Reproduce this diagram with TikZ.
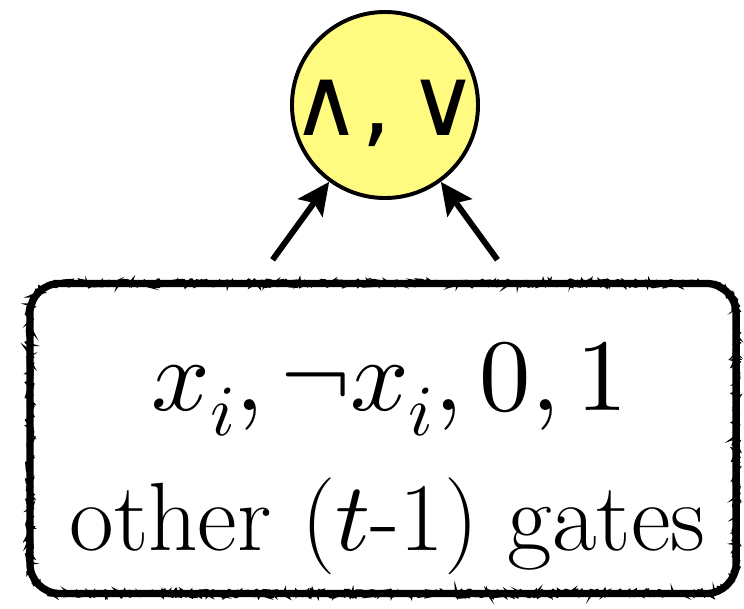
\documentclass[tikz,border=0pt]{standalone}
\usepackage{amsmath}
\usepackage{unicode-math}
\setmathfont{Latin Modern Math}
\usetikzlibrary{arrows.meta,positioning,decorations.pathmorphing}
\newfontfamily\opfont{DejaVu Sans}
\definecolor{gateyellow}{HTML}{FFFA80}

\begin{document}
\begin{tikzpicture}[x=0.025cm, y=0.025cm,
  gate/.style={draw, circle, line width=2.8pt, fill=gateyellow,
    minimum size=4.65cm, inner sep=0pt, text height=1.6cm, text depth=0.1cm,
    font=\opfont\fontsize{68}{70}\selectfont},
  frame/.style={draw, line width=5.2pt, rounded corners=0.75cm,
    minimum width=17.65cm, minimum height=7.75cm, inner sep=0pt,
    postaction={draw, decorate, sharp corners, line width=2pt,
      decoration={random steps, segment length=2.5pt, amplitude=2.4pt}},
    postaction={draw, decorate, sharp corners, line width=1.3pt,
      decoration={random steps, segment length=1.6pt, amplitude=3pt}}},
  big/.style={font=\fontsize{69}{80}\selectfont, inner sep=0pt},
  feed/.style={-{Stealth[length=0.8cm, width=0.75cm, inset=0.15cm]}, line width=4.2pt},
]
  \useasboundingbox (0,0) rectangle (744,608);

  % --- the gate on top ---------------------------------------------
  \node[gate] (gate) at (385,503) {\makebox[3cm][c]{∧,\,∨}};

  % --- the inputs it may read --------------------------------------
  \node[frame] (frame) at (383,169.5) {};
  \node[big, anchor=base, font=\fontsize{73}{80}\selectfont] (lits) at (390,198) {$x_i, \neg x_i, 0, 1$};
  \node[big, anchor=base] (prev) at (387.5,58) {other ($t$-1) gates};

  % --- two wires into the gate -------------------------------------
  \coordinate (lt) at ([xshift=-2.76cm, yshift=0.5cm]frame.north);
  \coordinate (rt) at ([xshift=2.86cm, yshift=0.5cm]frame.north);
  \draw[feed] (lt) -- (gate);
  \draw[feed] (rt) -- (gate);
\end{tikzpicture}
\end{document}
